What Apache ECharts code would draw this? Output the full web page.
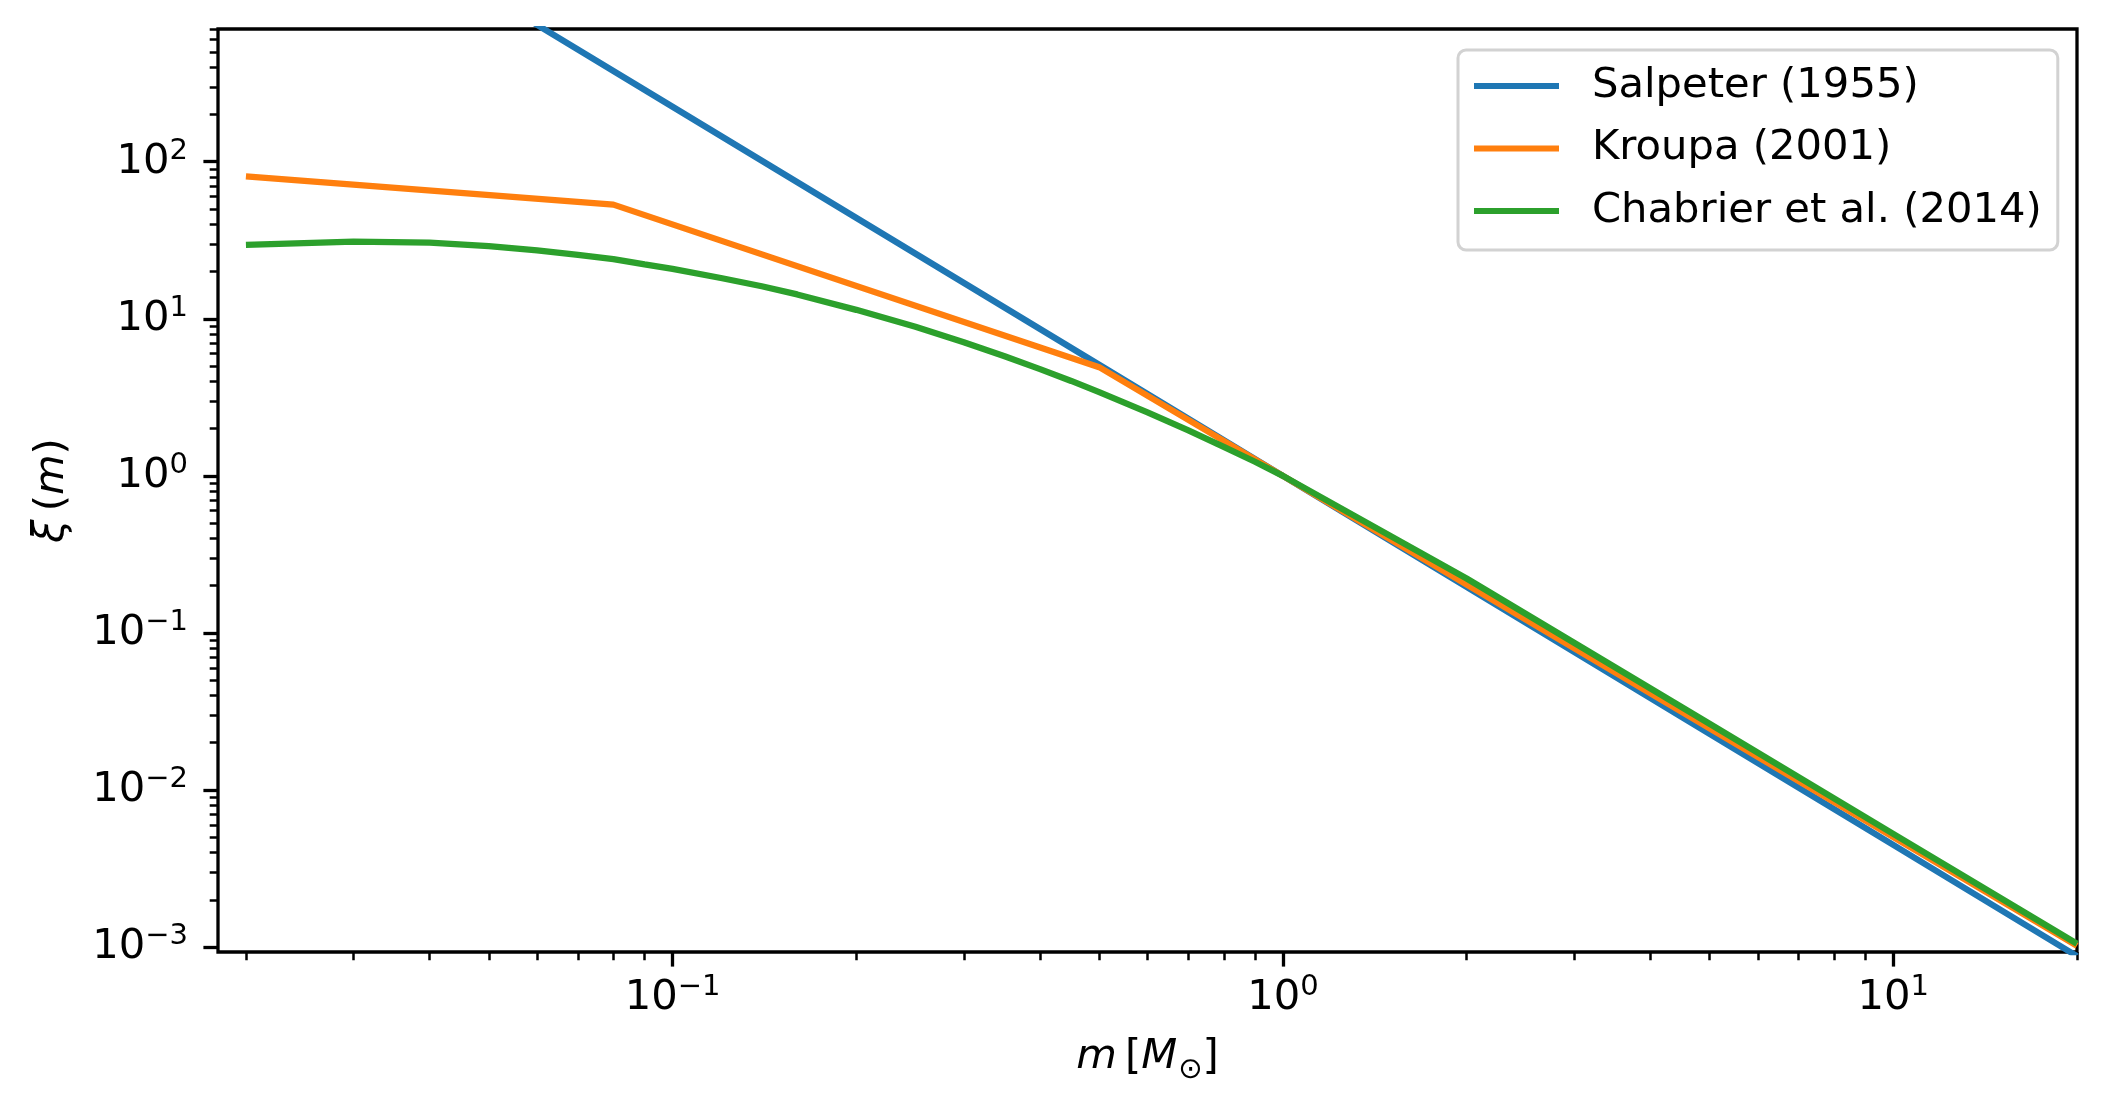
<!DOCTYPE html>
<html>
<head>
<meta charset="utf-8">
<script src="https://cdn.jsdelivr.net/npm/echarts@6/dist/echarts.min.js"></script>
<style>
  html, body { margin: 0; padding: 0; background: #fff; }
  #chart { width: 2107px; height: 1115px; }
</style>
</head>
<body>
<div id="chart"></div>
<script>
// values
const salpeterMass = [0.02, 0.05, 0.1, 0.5, 1, 5, 10, 20];
const salpeter = [9830, 1141, 223.9, 5.10, 1.0, 0.0228, 4.47e-3, 8.76e-4];

const kroupaMass = [0.02, 0.08, 0.5, 1, 20];
const kroupa = [80.8, 53.3, 4.92, 1.0, 1.02e-3];

const chabrierMass = [0.02, 0.03, 0.04, 0.05, 0.06, 0.07, 0.08, 0.09, 0.1,
  0.12, 0.14, 0.16, 0.2, 0.25, 0.3, 0.35, 0.4, 0.45, 0.5, 0.6, 0.7, 0.8, 0.9,
  1, 2, 5, 10, 20];
const chabrier = [29.6, 31.0, 30.6, 29.0, 27.3, 25.5, 24.0, 22.2, 20.8,
  18.2, 16.1, 14.3, 11.4, 8.89, 7.09, 5.77, 4.78, 4.02, 3.41, 2.54, 1.95, 1.53, 1.23,
  1.0, 0.222, 0.0264, 5.26e-3, 1.05e-3];

const seriesNames = ['Salpeter (1955)', 'Kroupa (2001)', 'Chabrier et al. (2014)'];
const colors = ['#1f77b4', '#ff7f0e', '#2ca02c'];

// ticks
const xMajor = [0.1, 1, 10];
const xMinor = [0.02, 0.03, 0.04, 0.05, 0.06, 0.07, 0.08, 0.09,
  0.2, 0.3, 0.4, 0.5, 0.6, 0.7, 0.8, 0.9,
  2, 3, 4, 5, 6, 7, 8, 9, 20];
const yMajor = [1e-3, 1e-2, 1e-1, 1, 10, 100];
const yMinor = [2e-3, 3e-3, 4e-3, 5e-3, 6e-3, 7e-3, 8e-3, 9e-3,
  2e-2, 3e-2, 4e-2, 5e-2, 6e-2, 7e-2, 8e-2, 9e-2,
  0.2, 0.3, 0.4, 0.5, 0.6, 0.7, 0.8, 0.9,
  2, 3, 4, 5, 6, 7, 8, 9,
  20, 30, 40, 50, 60, 70, 80, 90,
  200, 300, 400, 500, 600, 700];

const X_MIN = 0.018, X_MAX = 20;
const Y_MIN = 9.3e-4, Y_MAX = 700;

const FONT = 'DejaVu Sans';
const FS = 41.7;

function pairs(xs, ys) {
  return xs.map((x, i) => [x, ys[i]]);
}

function powLabel(v) {
  const e = Math.round(Math.log10(v));
  const s = e < 0 ? '\u2212' + (-e) : String(e);
  return '{b|10}{s|' + s + '}';
}

const labelRich = {
  b: { fontFamily: FONT, fontSize: FS, lineHeight: 42, color: '#000', verticalAlign: 'bottom' },
  s: { fontFamily: FONT, fontSize: 29, lineHeight: 29, color: '#000', verticalAlign: 'bottom', padding: [0, 0, 17, 0] }
};

const nameRich = {
  i: { fontFamily: FONT, fontStyle: 'italic', fontSize: FS, lineHeight: 42, color: '#000', verticalAlign: 'top' },
  n: { fontFamily: FONT, fontSize: FS, lineHeight: 42, color: '#000', verticalAlign: 'top' },
  sub: { fontFamily: FONT, fontSize: 29, lineHeight: 29, color: '#000', verticalAlign: 'top', padding: [20, 0, 0, 1] }
};

const majorTick = { show: true, length: 14.6, lineStyle: { color: '#000', width: 3.3 } };
const minorTick = { show: true, length: 8.3, lineStyle: { color: '#000', width: 2.5 } };

const chart = echarts.init(document.getElementById('chart'), null, { renderer: 'canvas' });

const option = {
  animation: false,
  backgroundColor: '#fff',
  grid: {
    left: 218, right: 30, top: 29, bottom: 163,
    show: true, borderColor: '#000', borderWidth: 3.3, backgroundColor: 'transparent'
  },
  legend: {
    orient: 'vertical',
    left: 1458, top: 50,
    icon: 'rect',
    itemWidth: 85, itemHeight: 6, itemGap: 12.5,
    padding: [11, 16, 14, 16],
    backgroundColor: 'rgba(255,255,255,0.8)',
    borderColor: '#d2d2d2', borderWidth: 3, borderRadius: 8,
    textStyle: { fontFamily: FONT, fontSize: FS, lineHeight: 50, color: '#000', padding: [0, 0, 0, 28] },
    data: seriesNames
  },
  xAxis: [
    {
      type: 'log', min: X_MIN, max: X_MAX,
      name: '{i|m}{n|\u2009[}{i|M}{sub|\u2299}{n|]}',
      nameLocation: 'middle', nameGap: 84,
      nameTextStyle: { rich: nameRich },
      axisLine: { show: false },
      axisTick: Object.assign({ customValues: xMajor }, majorTick),
      axisLabel: { customValues: xMajor, formatter: powLabel, rich: labelRich, margin: 25 },
      splitLine: { show: false }
    },
    {
      type: 'log', min: X_MIN, max: X_MAX, position: 'bottom',
      axisLine: { show: false },
      axisTick: Object.assign({ customValues: xMinor }, minorTick),
      axisLabel: { show: false },
      splitLine: { show: false }
    }
  ],
  yAxis: [
    {
      type: 'log', min: Y_MIN, max: Y_MAX,
      name: '{i|\u03be}{n|\u2009(}{i|m}{n|)}',
      nameLocation: 'middle', nameGap: 145, nameRotate: 90,
      nameTextStyle: { rich: nameRich },
      axisLine: { show: false },
      axisTick: Object.assign({ customValues: yMajor }, majorTick),
      axisLabel: { customValues: yMajor, formatter: powLabel, rich: labelRich, margin: 30 },
      splitLine: { show: false }
    },
    {
      type: 'log', min: Y_MIN, max: Y_MAX, position: 'left',
      axisLine: { show: false },
      axisTick: Object.assign({ customValues: yMinor }, minorTick),
      axisLabel: { show: false },
      splitLine: { show: false }
    }
  ],
  series: [
    { name: seriesNames[0], data: pairs(salpeterMass, salpeter) },
    { name: seriesNames[1], data: pairs(kroupaMass, kroupa) },
    { name: seriesNames[2], data: pairs(chabrierMass, chabrier) }
  ].map((s, i) => Object.assign({
    type: 'line',
    xAxisIndex: 0, yAxisIndex: 0,
    showSymbol: false, symbol: 'none',
    clip: true,
    color: colors[i],
    itemStyle: { color: colors[i] },
    lineStyle: { color: colors[i], width: 6.25 },
    emphasis: { disabled: true }
  }, s))
};

chart.setOption(option);
</script>
</body>
</html>
